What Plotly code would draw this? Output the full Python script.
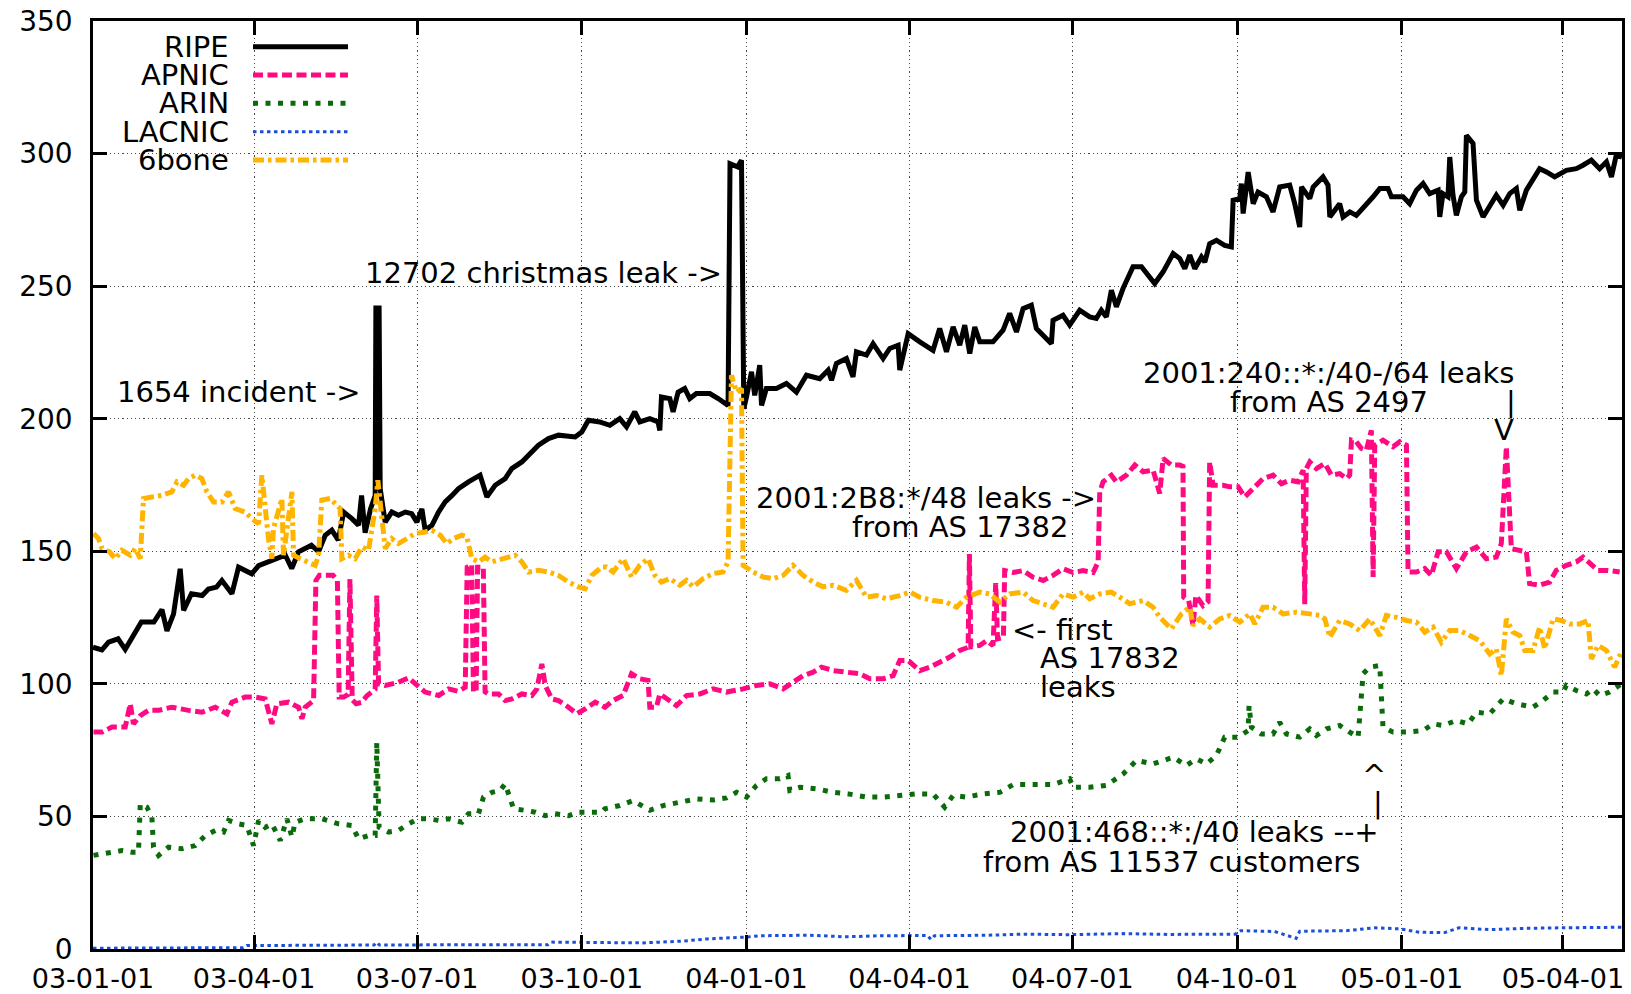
import pandas as pd
import plotly.graph_objects as go

START = "2003-01-01"
END = "2005-05-04"

# ---- data: days since 2003-01-01 and prefix counts ----
ripe_day = [0, 5, 8.7, 14, 18, 23.6, 27, 34, 36.6, 38.5, 41.3, 45, 48.7, 50.6, 55, 61, 64.5, 69, 72, 77.6,
            81.3, 88.7, 92.5, 100, 107.4, 111, 114.8, 122, 126, 129.7, 133.4, 137, 140, 144.6, 148.3, 150,
            152, 155, 157.6, 158, 159.8, 160.4, 163.2, 166.9, 170.6, 174.4, 178, 180.9, 183.7, 185.5, 189.3,
            193, 196.7, 200.4, 204.1, 209.7, 213.5, 216.2, 220, 224.6, 230.2, 233.9, 239.5, 243.2, 248.8,
            254.4, 260, 269.3, 273, 276.7, 283, 288.7, 294.2, 298, 302.6, 305.4, 311, 315.6, 316.6, 317.5,
            322.2, 324, 326.8, 330.5, 333.3, 337, 344.5, 349.2, 354.7, 355.8, 360, 362.2, 363.5, 365, 367.8,
            369.6, 372.4, 373.4, 376.1, 381.7, 387.3, 392.9, 398.5, 405.9, 410.6, 412.5, 415.2, 420.8, 424.5,
            426.4, 432, 435.7, 441.3, 445, 449.7, 450.6, 455.3, 461.8, 469.2, 472.9, 476.7, 480.4, 484.1,
            486.9, 489.7, 492.5, 495.3, 502.7, 508.3, 512, 515.8, 519.5, 524.1, 526.9, 530.7, 535.3, 536.2,
            541.8, 545.5, 551.1, 556.7, 560.4, 563.2, 566, 568.8, 571.6, 575.3, 580.9, 585.6, 588.4, 593,
            597.7, 603.3, 607, 609.8, 612.6, 615.4, 619.1, 621, 623.7, 627.5, 632.1, 635.8, 636.8, 640.5,
            641.4, 642.4, 645.2, 648, 650.7, 655.4, 659.1, 662.8, 668.4, 671.2, 674, 675, 679.6, 681.5, 687,
            689.8, 690.8, 696.3, 698.2, 702, 705.6, 711.2, 715, 718.7, 723.3, 725.2, 731.7, 735.4, 739.2,
            742.9, 746.6, 751.3, 752.2, 754, 756.8, 757.8, 759.6, 761.5, 764.3, 766.2, 767.1, 770.8, 772.7,
            776.4, 780.1, 783.8, 787.6, 791.3, 795, 796.9, 800.6, 804.3, 808, 811.8, 816.4, 822.9, 828.5,
            832.2, 836.9, 841.5, 845.3, 848.1, 850.8, 854]
ripe_val = [113.8, 112.8, 115.7, 117, 113, 120, 123.3, 123.3, 125.8, 128, 120, 126.4, 143.4, 127.7, 134, 133.3,
            135.8, 136.5, 139, 134, 144, 141.5, 144.6, 146.6, 148.5, 143.5, 149.8, 152.3, 149.8, 156, 158,
            154.2, 164.8, 162.3, 159.8, 171, 157, 166, 171, 241.8, 241.8, 173.6, 161, 164.8, 163.6, 164.8,
            164.2, 161, 166, 158, 159.8, 164.8, 168.6, 171, 173.6, 176.2, 177.4, 178.7, 170.5, 174.9, 177.4,
            181.2, 183.7, 186.2, 190, 192.5, 193.8, 193.1, 195, 199.4, 198.8, 197.5, 200, 196.9, 202.6, 198.8,
            200, 198.8, 195.6, 208.2, 207.6, 202.6, 210, 211.4, 207.6, 209.5, 209.5, 207.6, 205, 296.2, 295,
            297.5, 203.8, 208.2, 217.7, 208.8, 220.2, 205, 211.4, 211.4, 213.3, 210, 216.4, 215.1, 218.3,
            214.5, 220.8, 222.7, 215.8, 225.2, 224, 228.3, 222.7, 226.5, 227.7, 218.3, 232.1, 229, 225.8,
            234, 225.2, 234.6, 227.7, 235.3, 224.6, 234.6, 229, 229, 233.4, 239.7, 232.7, 241.5, 242.8, 234,
            231.5, 228.3, 237.1, 239, 235.3, 240.9, 238.4, 237.8, 240.9, 238.4, 248.5, 242.2, 249.1, 257.3,
            257.3, 254.7, 251, 255.4, 262.3, 260.4, 256.6, 261.7, 256.6, 261, 259.1, 266, 267.3, 265.4, 264.8,
            282.4, 283, 288.7, 277.4, 293, 281.1, 285.5, 283.7, 278, 287.4, 288.1, 281.1, 272.3, 287.4, 283,
            287.4, 291.2, 288.1, 276.1, 281.1, 276.1, 278, 276.7, 280.5, 283.7, 286.8, 286.8, 283.7, 283.7,
            281.1, 286.2, 288.7, 284.9, 286.2, 276.1, 284.9, 283.7, 298.7, 284.3, 276.7, 283.7, 285.5, 306.9,
            303.8, 282.4, 276.1, 279.9, 284.3, 280.5, 284.9, 286.8, 278.6, 286.2, 289.9, 294.3, 293.1, 291.2,
            293.7, 294.3, 295.6, 297.5, 294.3, 296.9, 291.2, 299.4, 298.7]

apnic_day = [0.3, 5, 10.6, 18, 20.8, 22.6, 26.4, 31, 36.6, 44, 53.4, 60.8, 68.3, 74.8, 77.6, 85, 90.6, 96.2,
             99.9, 102.7, 109.2, 114.8, 116.7, 118.5, 123.2, 124.5, 126.5, 134, 136.5, 137.5, 140, 142.5,
             143.5, 144.8, 147, 150, 153, 156, 157.6, 158.5, 159.5, 163.2, 170.6, 176.2, 180.9, 185.5, 193,
             198.6, 204, 207.9, 209, 211.5, 212.5, 214, 214.8, 218, 219, 220.9, 226.5, 230.2, 233.9, 239.5,
             245.1, 247.9, 250.7, 252.6, 256.3, 260, 265.6, 270.2, 275, 280.5, 285.9, 290.5, 296.1, 300.8,
             305.4, 310, 311, 314.7, 316.6, 322.2, 325.9, 331.5, 338.9, 346.4, 353.8, 363.1, 370.6, 378,
             385.5, 391, 396.6, 402.2, 406.9, 413.4, 420.8, 428.3, 433.9, 441.3, 446.9, 450.6, 455.3, 461.8,
             467.4, 473, 478.5, 484.1, 488.8, 489.5, 490.3, 495.3, 499, 502.7, 504.2, 505.2, 508.5, 509.2,
             513.9, 519.5, 525.1, 530.7, 536.2, 541.8, 547.4, 553, 558.6, 561.4, 562.3, 564.2, 568.8, 571.6,
             577.2, 581.9, 586.5, 592.1, 595.8, 597.7, 602.3, 607, 608.8, 609.2, 612, 614.4, 616, 620, 622.8,
             623.7, 625.6, 631.2, 634.9, 639.6, 643.3, 647.9, 653.5, 659.1, 663.8, 668.4, 673.1, 675.9, 676.8,
             677.7, 679.6, 683.3, 688, 691.7, 696.3, 700.1, 701.9, 702.9, 705.6, 708.4, 711.2, 714, 715,
             715.9, 720.5, 726.1, 729.9, 733.6, 734.5, 739.2, 743.8, 747.5, 751.3, 755.9, 761.5, 767.1,
             772.7, 778.2, 783.8, 786.6, 789.4, 792.2, 795.9, 800.6, 802.4, 808, 813.6, 817.3, 822.9, 828.5,
             832.2, 836.9, 840.6, 846.2, 852.7]
apnic_val = [81.8, 81.8, 83.7, 83.7, 92.5, 84.9, 88, 90, 90, 91.2, 90, 89.3, 91.2, 88.7, 93.1, 95, 95, 94.3,
             84.9, 92.5, 93.1, 91.2, 86.8, 91.2, 93.7, 139, 141, 141, 139, 95, 95, 96, 139.5, 94, 92.5, 93,
             95.5, 97.5, 98, 133.3, 100, 99.4, 100.6, 102.3, 99.4, 96.9, 95.6, 98.1, 97.2, 98.7, 144, 145, 97,
             97, 144, 144, 97, 96.2, 96.2, 93.7, 94.3, 96.2, 95.6, 98.1, 107.5, 99.4, 94.3, 93.7, 91.2, 88.7,
             90.6, 93.1, 91.2, 93.7, 95.6, 103.8, 101.9, 101.3, 91.2, 91.2, 96.2, 93.7, 91.8, 95.6, 96.2, 98.1,
             96.9, 98.1, 99.4, 100, 98.1, 100.6, 103.1, 104.4, 106.3, 105, 104.4, 103.8, 101.9, 101.9, 103.1,
             108.8, 108.8, 105, 106.3, 108.2, 110.1, 112.6, 113.8, 149, 114, 114.5, 116.3, 114.5, 138, 117,
             117.5, 142.7, 142, 142.7, 140.2, 139, 140.9, 143.4, 142, 142.7, 142, 145.9, 172.4, 176.2, 178.7,
             176.2, 178.7, 182.5, 180, 180.6, 171.8, 185, 182.5, 182.5, 182, 132.7, 131.4, 122, 133.3, 129.5,
             131, 183.7, 174.9, 174.9, 174.3, 174.3, 170.5, 173.6, 177.4, 178.7, 175.5, 176.8, 176.2, 180.6,
             130, 181.2, 183.7, 181.2, 183.1, 178.7, 179.3, 177.4, 178.7, 191.9, 191.3, 188.8, 188.1, 195.6,
             140.3, 190, 191.9, 189.4, 191.3, 190, 142.2, 142.2, 143.5, 140.9, 149.8, 149.8, 143.5, 149.8,
             151.6, 147.2, 147.8, 152.9, 189.4, 151, 150.4, 149.8, 137.8, 137.2, 138.4, 142.8, 144.7, 146,
             147.8, 144.7, 142.8, 142.8, 142.2]

arin_day = [0.3, 8.7, 16.1, 21.7, 25.4, 26.4, 30.1, 32.9, 33.8, 36.6, 42.2, 49.6, 57.1, 62.7, 68.3, 72.9, 75.7,
            81.3, 85.9, 89.7, 92.5, 96.2, 99.9, 104.6, 108.3, 111.1, 112.9, 118.5, 127.8, 137.2, 144.6, 148.3,
            153.9, 157.6, 158.5, 159.8, 165.1, 170.6, 176.2, 181.8, 187.4, 193, 198.6, 206, 209.7, 215.3,
            218.1, 222.8, 227.4, 230.2, 233, 234.9, 241.4, 247, 252.6, 258.1, 265.6, 271.2, 276.7, 284.2,
            285.9, 294.2, 301.7, 311, 318.4, 327.7, 337, 346.4, 353.8, 359.4, 365, 370.6, 376.1, 383.6, 388.2,
            389.2, 394.8, 404.1, 413.4, 421.8, 432, 441.3, 450.6, 459.9, 469.2, 475.7, 480.4, 487.8, 497.1,
            506.5, 513.9, 525.1, 536.2, 545.5, 547.4, 556.7, 566, 575.3, 582.8, 592.1, 603.3, 610.7, 616.3,
            621.9, 627.5, 632.1, 639.6, 645.2, 645.7, 647, 652.6, 659.1, 662.8, 666.6, 674, 679.6, 683.3,
            688.9, 696.3, 701.9, 706.6, 709.4, 713.1, 718.7, 720.5, 726.1, 733.6, 742.9, 748.5, 754.1, 761.5,
            768, 772.7, 780.1, 787.6, 795, 804.3, 809.9, 815.5, 821.1, 822.9, 828.5, 834.1, 837.8, 841.5,
            847.1, 853.6]
arin_val = [35.3, 36.1, 37.1, 36.5, 36.5, 54.7, 53.5, 49.7, 38.4, 35.3, 38.4, 37.8, 39, 42.8, 44.7, 44.1, 48.5,
            47.2, 46.6, 39, 48.5, 45.9, 47.2, 40.9, 49.1, 42.2, 47.8, 49.1, 49.1, 47.2, 46.6, 41.5, 42.8, 42.8,
            78, 45.9, 44.1, 44.7, 47.2, 49.1, 49.1, 48.5, 49.1, 47.8, 51, 51, 57.3, 59.1, 59.8, 62.3, 56.6,
            52.9, 52.3, 51.6, 50.3, 51, 50.3, 51.6, 51.6, 51.6, 52.9, 54.1, 56, 52.3, 54.1, 55.4, 56.6, 56.2,
            57, 59.1, 57.3, 61.7, 64.2, 64.2, 65.4, 59.8, 61, 60.4, 59.1, 58.5, 57.3, 57.3, 57.9, 58.5, 58.5,
            53.5, 57.9, 57.3, 58.5, 59.1, 62, 62, 62, 64.2, 61, 61, 61.7, 66, 71.1, 69.8, 72.3, 69.2, 71.7,
            69.8, 73, 79.9, 79.9, 82.4, 91.8, 83.7, 81.1, 81.1, 85.5, 81.1, 79.9, 83, 80.5, 83, 84.3, 81.8,
            79.9, 103.8, 106.3, 106.9, 83.7, 81.8, 81.8, 82.4, 84.9, 84.3, 86.2, 84.9, 89.3, 88.7, 94.3,
            92.5, 91.2, 93.7, 96.9, 96.9, 99.4, 97.5, 96.2, 98.1, 95.6, 96.9, 100]

lacnic_day = [0, 40, 84, 86, 120, 157, 158.5, 160, 200, 254, 256, 290, 307, 330, 343, 365, 372, 400, 420, 440,
              466, 468, 470, 500, 520, 545, 560, 575, 600, 638, 641, 660, 672, 674, 700, 716, 730, 741, 755,
              763, 780, 790, 800, 820, 854]
lacnic_val = [0.3, 0.4, 0.5, 1.3, 1.5, 1.5, 2.5, 1.5, 1.6, 1.6, 2.6, 2.4, 2.3, 3.0, 3.8, 4.5, 5.0, 5.2, 4.6,
              5.0, 5.1, 3.6, 5.0, 5.2, 5.6, 5.4, 5.5, 5.8, 5.5, 5.6, 6.9, 6.6, 4.0, 6.7, 6.9, 8.0, 7.6, 6.3,
              6.2, 8.0, 7.3, 7.6, 7.8, 8.0, 8.2]

sixbone_day = [0.3, 3.1, 5, 9.3, 12.4, 16.1, 20.8, 23.6, 26.4, 28.2, 32.9, 38.5, 44, 46.9, 50.6, 53.4, 57.1,
               60.8, 63.6, 67.3, 72, 75.7, 79.4, 85, 88.7, 92.5, 94.3, 96.2, 98, 99.9, 100.8, 105.5, 106.4,
               111.1, 112, 115.7, 120.4, 124.1, 126, 127.8, 132.5, 136.2, 138, 139, 142.7, 146.4, 150.2, 153.9,
               157.6, 159.1, 161.3, 163.2, 166.9, 170.6, 175.3, 179.9, 185.5, 189.3, 193.9, 197.6, 201.4, 206,
               208.8, 211.6, 215.3, 219, 222.8, 228.4, 232.1, 235.8, 239.5, 243.3, 248.9, 254.5, 260, 265.6,
               271.2, 274.9, 278.6, 284.2, 286.8, 290.5, 296.1, 300.8, 305.4, 310.1, 313.8, 317.5, 322.2,
               327.7, 331.5, 335.2, 340.8, 346.4, 351.9, 354.7, 356.6, 359.4, 362.2, 363.1, 368.7, 374.3,
               379.9, 385.5, 391, 396.6, 402.2, 407.8, 413.4, 420.8, 426.4, 432, 437.6, 443.2, 450.6, 456.2,
               461.8, 469.2, 476.7, 482.3, 487.8, 495.3, 500.9, 506.5, 512, 519.5, 525.1, 530.7, 536.2, 541.8,
               547.4, 553, 556.7, 562.3, 568.8, 573.5, 579.1, 586.5, 592.1, 595.8, 602.3, 607.9, 612.6, 614.4,
               618.2, 623.7, 629.3, 634.9, 640.5, 646.1, 648.9, 653.5, 659.1, 664.7, 672.1, 679.6, 685.2,
               688, 690.8, 696.3, 701.9, 707.5, 713.1, 718.7, 722.4, 728, 733.6, 739.2, 743.8, 748.5, 753.1,
               757.8, 763.4, 768.9, 774.5, 780.1, 783.8, 786.6, 789.4, 793.1, 796.9, 799.7, 804.3, 808, 810.8,
               815.5, 820.1, 824.8, 830.4, 835, 836.9, 840.6, 845.3, 849.9, 853.6]
sixbone_val = [156.7, 154.8, 151, 149.8, 147.2, 150.4, 148.5, 151, 147.2, 169.9, 170.5, 171.1, 172.4, 176.2,
               174.9, 177.4, 178.7, 177.4, 172.4, 168.6, 168.6, 172.4, 166.1, 164.8, 162.3, 160.4, 178.7, 164.8,
               154.8, 147.2, 158.6, 169.9, 148.5, 172.4, 148.5, 147.2, 146, 144.7, 148.5, 169.3, 169.9, 167.4,
               166.1, 147.2, 148.5, 147.2, 151.6, 150.4, 166.1, 176.8, 162.3, 151, 154.8, 152.9, 154.8, 156.7,
               157.3, 157.9, 156.1, 152.9, 154.8, 156.1, 155.4, 147.2, 146, 147.8, 146, 147.2, 147.8, 148.5,
               146, 142.2, 142.8, 142.2, 140.9, 138.4, 136.6, 135.9, 140.9, 144.1, 144.1, 142.2, 147.2, 140.3,
               144.7, 147.2, 140.9, 138.4, 139.7, 137.2, 139.1, 136.6, 139.7, 141.6, 142.2, 146, 216.4, 210,
               211.4, 144.7, 142.2, 140.3, 139.7, 140.9, 144.7, 140.9, 138.4, 136.6, 137.2, 135.3, 139.1, 132.7,
               133.3, 132.1, 133.3, 134.6, 132.7, 131.4, 130.8, 128.9, 132.7, 134.6, 133.9, 130.8, 133.9, 134.6,
               131.4, 130.2, 128.9, 133.9, 132.7, 134.6, 132.1, 133.9, 134.6, 132.7, 130.2, 131.4, 128.9,
               125.1, 120.7, 126.4, 128.9, 122, 124.5, 121.4, 124.5, 125.8, 123.3, 126.4, 122.6, 128.9, 128.9,
               126.4, 127, 126.4, 125.8, 124.5, 117.6, 123.9, 122.6, 120.1, 124.5, 118.2, 125.8, 125.1, 123.9,
               123.3, 119.5, 121.4, 115.7, 120.1, 120.1, 118.2, 116.3, 111.3, 113.2, 103.1, 124.5, 119.5,
               118.2, 112.6, 112.6, 121.4, 113.2, 124.5, 123.9, 122.6, 122.6, 123.9, 109.4, 114.5, 112.6,
               106.3, 111.9]

series_names = ["RIPE", "APNIC", "ARIN", "LACNIC", "6bone"]

xtick_dates = ["2003-01-01", "2003-04-01", "2003-07-01", "2003-10-01", "2004-01-01", "2004-04-01",
               "2004-07-01", "2004-10-01", "2005-01-01", "2005-04-01"]
xtick_labels = ["03-01-01", "03-04-01", "03-07-01", "03-10-01", "04-01-01", "04-04-01",
                "04-07-01", "04-10-01", "05-01-01", "05-04-01"]
ytick_vals = [0, 50, 100, 150, 200, 250, 300, 350]

# ---- styling ----
FONT = "DejaVu Sans"
FS_TXT = 29
W, H = 1631, 994
# plot-area edges in page pixels
PL, PR, PT, PB = 93, 1622, 21, 949

styles = {
    "RIPE": dict(color="#000000", width=5, dash="solid"),
    "APNIC": dict(color="#ff0a82", width=5, dash="10px,4.5px"),
    "ARIN": dict(color="#0b6b0b", width=5, dash="5px,7.5px"),
    "LACNIC": dict(color="#1a4fd8", width=3, dash="3.5px,3.5px"),
    "6bone": dict(color="#ffb400", width=5, dash="11px,4px,3.5px,4px"),
}


def to_dates(days):
    d = pd.Timestamp(START) + pd.to_timedelta(days, unit="D")
    return d.strftime("%Y-%m-%d %H:%M").tolist()


def px(x):
    return (x - PL) / (PR - PL)


def py(y):
    return (PB - y) / (PB - PT)


data = {
    "RIPE": (ripe_day, ripe_val),
    "APNIC": (apnic_day, apnic_val),
    "ARIN": (arin_day, arin_val),
    "LACNIC": (lacnic_day, lacnic_val),
    "6bone": (sixbone_day, sixbone_val),
}

fig = go.Figure()
for name in series_names:
    d, v = data[name]
    fig.add_trace(go.Scatter(x=to_dates(d), y=v, mode="lines", name=name,
                             line=styles[name], showlegend=False, hoverinfo="skip"))

shapes = [
    dict(type="rect", xref="paper", yref="paper", x0=0, x1=px(368), y0=py(176), y1=1,
         fillcolor="white", line=dict(width=0), layer="between"),
]
annotations = []
key_rows = [46.7, 75, 103.3, 131.7, 160]
for name, ry in zip(series_names, key_rows):
    st = styles[name]
    shapes.append(dict(type="line", xref="paper", yref="paper", x0=px(253), x1=px(348), y0=py(ry), y1=py(ry),
                       line=dict(color=st["color"], width=st["width"], dash=st["dash"]), layer="above"))
    annotations.append(dict(text=name, xref="paper", yref="paper", x=px(231), y=py(ry),
                            xanchor="right", yanchor="middle", showarrow=False,
                            font=dict(family=FONT, size=FS_TXT, color="black")))

labels = [
    ("1654 incident ->", 362, 391.7, "right"),
    ("12702 christmas leak ->", 724, 273.3, "right"),
    ("2001:2B8:*/48 leaks ->", 1098.3, 498.3, "right"),
    ("from AS 17382", 1070, 526.7, "right"),
    ("<- first", 1010, 630, "left"),
    ("AS 17832", 1038.3, 658.3, "left"),
    ("leaks", 1038.3, 686.7, "left"),
    ("2001:240::*:/40-/64 leaks", 1328.3, 373.3, "center"),
    ("from AS 2497", 1329, 401.7, "center"),
    ("|", 1511, 401.7, "center"),
    ("V", 1504, 430, "center"),
    ("^", 1374.3, 775, "center"),
    ("|", 1378.3, 803.3, "center"),
    ("2001:468::*:/40 leaks --+", 1380.7, 831.7, "right"),
    ("from AS 11537 customers", 1362.3, 861.7, "right"),
]
for text, x, y, anc in labels:
    annotations.append(dict(text=text, xref="paper", yref="paper", x=px(x), y=py(y),
                            xanchor=anc, yanchor="middle", showarrow=False,
                            font=dict(family=FONT, size=FS_TXT, color="black")))

axis_common = dict(
    showgrid=True, gridcolor="#4a4a4a", gridwidth=1, griddash="1.2px,3px",
    showline=True, linecolor="black", linewidth=2.5, mirror="allticks",
    ticks="inside", ticklen=14, tickwidth=2.5, tickcolor="black",
    zeroline=False, automargin=False, ticklabeloverflow="allow",
)

fig.update_layout(
    width=W, height=H,
    margin=dict(l=PL, r=W - PR, t=PT, b=H - PB, pad=0),
    paper_bgcolor="white", plot_bgcolor="white",
    font=dict(family=FONT, size=28, color="black"),
    xaxis=dict(type="date", range=[START, END], tickmode="array", tickvals=xtick_dates,
               ticktext=xtick_labels, ticklabelstandoff=4,
               tickfont=dict(family=FONT, size=27, color="black"), **axis_common),
    yaxis=dict(range=[0, 350], tickmode="array", tickvals=ytick_vals, ticklabelstandoff=12,
               tickfont=dict(family=FONT, size=28, color="black"), **axis_common),
    shapes=shapes,
    annotations=annotations,
    showlegend=False,
)

# the page body would otherwise add an 8px margin around the figure
fig.write_html("out.html", config={"displayModeBar": False},
               post_script="document.body.style.margin='0px';")
